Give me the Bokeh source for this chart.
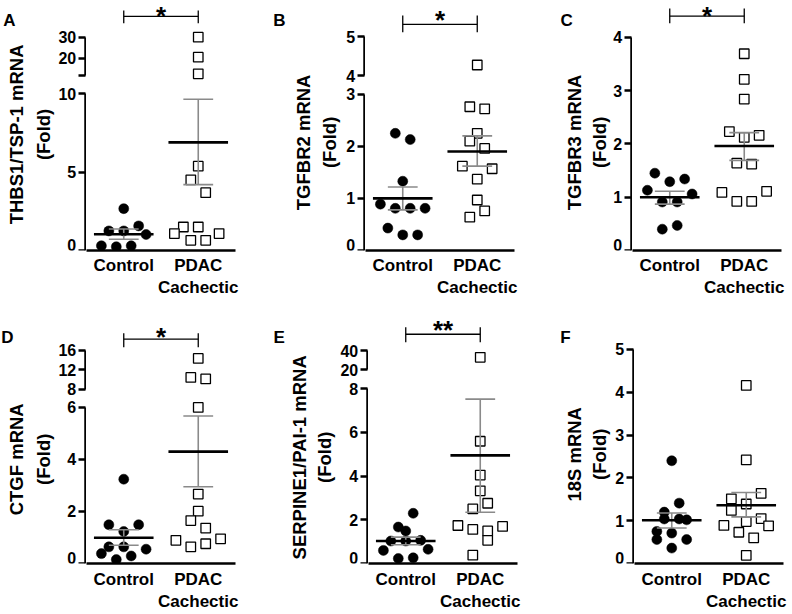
import math
from bokeh.plotting import figure
from bokeh.models import Range1d, LinearAxis, FixedTicker, Label, ColumnDataSource
from bokeh.layouts import row, column
from bokeh.embed import file_html
from bokeh.resources import INLINE

FONT = "Liberation Sans"

# ----------------------------- data -----------------------------
categories = ["Control", "PDAC\nCachectic"]

# A  THBS1/TSP-1
a_ctrl = [2.67, 1.25, 1.25, 1.57, 1.02, 0.30, 0.24, 0.30]
a_ctrl_dx = [0.0, -0.2, 0.0, 0.2, 0.3, -0.3, -0.1, 0.1]
a_pdac = [30.0, 20.4, 12.4, 5.38, 4.51, 3.69, 1.50, 1.50, 1.08, 0.65, 0.65, 1.08]
a_pdac_dx = [0.0, 0.0, 0.0, 0.0, -0.1, 0.1, -0.2, 0.0, -0.32, -0.1, 0.1, 0.28]
a_mean = [1.04, 6.90]
a_sem_lo = [0.72, 4.20]
a_sem_hi = [1.37, 9.65]
a_low_ticks = [0, 5, 10]
a_up_ticks = [20, 30]
a_up_start = 11.5

# B  TGFBR2
b_ctrl = [2.25, 2.13, 1.33, 0.89, 0.81, 0.81, 0.81, 0.43, 0.30, 0.30]
b_ctrl_dx = [-0.1, 0.1, 0.0, -0.3, -0.1, 0.1, 0.3, -0.2, 0.0, 0.2]
b_pdac = [4.28, 2.76, 2.72, 2.25, 2.10, 1.96, 1.62, 1.57, 1.37, 0.97, 0.76, 0.64]
b_pdac_dx = [0.0, -0.1, 0.1, 0.0, -0.1, 0.1, -0.2, 0.2, 0.0, 0.0, 0.1, -0.1]
b_mean = [1.00, 1.90]
b_sem_lo = [0.78, 1.62]
b_sem_hi = [1.22, 2.20]
b_low_ticks = [0, 1, 2, 3]
b_up_ticks = [4, 5]
b_up_start = 4

# C  TGFBR3
c_ctrl = [1.45, 1.29, 1.34, 1.13, 1.06, 0.91, 0.91, 0.40, 0.47]
c_ctrl_dx = [-0.2, 0.0, 0.2, -0.3, 0.3, -0.1, 0.1, -0.1, 0.1]
c_pdac = [3.69, 3.21, 2.84, 2.23, 2.12, 2.16, 1.64, 1.62, 1.09, 1.11, 0.92, 0.92]
c_pdac_dx = [0.0, 0.0, 0.0, -0.2, 0.0, 0.2, -0.1, 0.1, -0.3, 0.3, -0.1, 0.1]
c_mean = [1.00, 1.96]
c_sem_lo = [0.87, 1.69]
c_sem_hi = [1.11, 2.21]
c_low_ticks = [0, 1, 2, 3, 4]

# D  CTGF
d_ctrl = [3.24, 1.49, 1.49, 1.23, 0.64, 0.64, 0.38, 0.55, 0.29, 0.15]
d_ctrl_dx = [0.0, -0.2, 0.2, 0.0, -0.2, 0.0, -0.3, 0.3, 0.1, -0.1]
d_pdac = [14.3, 10.4, 10.1, 6.0, 2.67, 2.01, 1.65, 1.36, 0.89, 0.64, 0.76, 0.95]
d_pdac_dx = [0.0, -0.1, 0.1, 0.0, 0.0, 0.0, -0.1, 0.1, -0.3, -0.1, 0.1, 0.3]
d_mean = [0.99, 4.30]
d_sem_lo = [0.70, 2.95]
d_sem_hi = [1.30, 5.67]
d_low_ticks = [0, 2, 4, 6]
d_up_ticks = [8, 12, 16]
d_up_start = 8

# E  SERPINE1/PAI-1
e_ctrl = [2.30, 1.67, 1.49, 1.03, 1.03, 1.06, 0.60, 0.65, 0.23, 0.26]
e_ctrl_dx = [0.1, -0.1, 0.0, -0.2, 0.0, 0.2, -0.3, 0.3, -0.1, 0.1]
e_pdac = [33.2, 5.60, 4.05, 3.33, 2.76, 2.50, 1.74, 1.56, 1.49, 1.70, 1.06, 0.38]
e_pdac_dx = [0.0, 0.0, 0.0, 0.0, 0.1, -0.1, -0.3, -0.1, 0.1, 0.3, 0.1, -0.1]
e_mean = [1.03, 4.95]
e_sem_lo = [0.86, 2.35]
e_sem_hi = [1.21, 7.53]
e_low_ticks = [0, 2, 4, 6, 8]
e_up_ticks = [20, 40]
e_up_start = 20

# F  18S
f_ctrl = [2.40, 1.41, 1.20, 1.04, 1.04, 1.02, 0.75, 0.71, 0.56, 0.56, 0.36]
f_ctrl_dx = [0.0, 0.1, -0.1, -0.1, 0.1, 0.2, -0.2, 0.0, -0.2, 0.2, 0.0]
f_pdac = [4.16, 2.42, 1.64, 1.51, 1.39, 1.24, 1.05, 0.98, 0.89, 0.88, 0.73, 0.60, 0.19]
f_pdac_dx = [0.0, 0.0, 0.2, -0.2, 0.0, -0.2, 0.2, 0.0, -0.3, 0.3, -0.1, 0.1, 0.0]
f_mean = [1.01, 1.36]
f_sem_lo = [0.83, 1.09]
f_sem_hi = [1.18, 1.66]
f_low_ticks = [0, 1, 2, 3, 4, 5]

panels = [
    dict(letter="A", ylabel="THBS1/TSP-1 mRNA", sig="*", ctrl=a_ctrl, ctrl_dx=a_ctrl_dx, pdac=a_pdac,
         pdac_dx=a_pdac_dx, mean=a_mean, lo=a_sem_lo, hi=a_sem_hi, low_ticks=a_low_ticks,
         up_ticks=a_up_ticks, up_start=a_up_start),
    dict(letter="B", ylabel="TGFBR2 mRNA", sig="*", ctrl=b_ctrl, ctrl_dx=b_ctrl_dx, pdac=b_pdac,
         pdac_dx=b_pdac_dx, mean=b_mean, lo=b_sem_lo, hi=b_sem_hi, low_ticks=b_low_ticks,
         up_ticks=b_up_ticks, up_start=b_up_start),
    dict(letter="C", ylabel="TGFBR3 mRNA", sig="*", ctrl=c_ctrl, ctrl_dx=c_ctrl_dx, pdac=c_pdac,
         pdac_dx=c_pdac_dx, mean=c_mean, lo=c_sem_lo, hi=c_sem_hi, low_ticks=c_low_ticks,
         up_ticks=[], up_start=None),
    dict(letter="D", ylabel="CTGF mRNA", sig="*", ctrl=d_ctrl, ctrl_dx=d_ctrl_dx, pdac=d_pdac,
         pdac_dx=d_pdac_dx, mean=d_mean, lo=d_sem_lo, hi=d_sem_hi, low_ticks=d_low_ticks,
         up_ticks=d_up_ticks, up_start=d_up_start),
    dict(letter="E", ylabel="SERPINE1/PAI-1 mRNA", sig="**", ctrl=e_ctrl, ctrl_dx=e_ctrl_dx, pdac=e_pdac,
         pdac_dx=e_pdac_dx, mean=e_mean, lo=e_sem_lo, hi=e_sem_hi, low_ticks=e_low_ticks,
         up_ticks=e_up_ticks, up_start=e_up_start),
    dict(letter="F", ylabel="18S mRNA", sig="", ctrl=f_ctrl, ctrl_dx=f_ctrl_dx, pdac=f_pdac,
         pdac_dx=f_pdac_dx, mean=f_mean, lo=f_sem_lo, hi=f_sem_hi, low_ticks=f_low_ticks,
         up_ticks=[], up_start=None),
]

# ------------------------- layout geometry -------------------------
# pixel rows are page pixels; maps = (v0, y0, v1, y1) value->pixel row; y0 is the x-axis row
TOP_FRAME = (0, 300)
BOT_FRAME = (300, 614)
geom = [
    dict(w=270, gw=86, frame=TOP_FRAME, low_map=(0, 252, 10, 94), up_map=(20, 58, 30, 37),
         letter_dx=-82, letter_y=20, lab_dx=(-68.7, -42), lab_y=135, br=(16, 10, 23), star_top=1, stand=5),
    dict(w=265, gw=95, frame=TOP_FRAME, low_map=(0, 252, 3, 94.5), up_map=(4, 76, 5, 36.7),
         letter_dx=-91, letter_y=20, lab_dx=(-60.5, -35), lab_y=143, br=(24, 15, 32), star_top=5, stand=5),
    dict(w=257, gw=97, frame=TOP_FRAME, low_map=(0, 252, 4, 37), up_map=None,
         letter_dx=-70.7, letter_y=20, lab_dx=(-57, -32), lab_y=143, br=(15.7, 8, 23), star_top=1, stand=5),
    dict(w=270, gw=86, frame=BOT_FRAME, low_map=(0, 565, 6, 407.7), up_map=(8, 389.3, 16, 350),
         letter_dx=-84, letter_y=337, lab_dx=(-68.7, -42), lab_y=460, br=(339, 333, 347), star_top=322, stand=6),
    dict(w=265, gw=98, frame=BOT_FRAME, low_map=(0, 565, 8, 389), up_map=(20, 370, 40, 350.7),
         letter_dx=-93.7, letter_y=337, lab_dx=(-68, -43), lab_y=458, br=(334, 327, 342), star_top=315, stand=6),
    dict(w=257, gw=99, frame=BOT_FRAME, low_map=(0, 565, 5, 349.3), up_map=None,
         letter_dx=-73, letter_y=337, lab_dx=(-59, -34), lab_y=455, br=None, star_top=None, stand=6),
]

X0, X1 = 0.5, 2.5
PPU = 74.5          # horizontal pixels per category unit
FRAME_W = int(round((X1 - X0) * PPU))
MEAN_HW = 0.4
CAP_HW = 0.2
AXIS_W = 2.5
TICK_OUT = 7
Y_TICK_FS = "16px"


def mapper(m):
    v0, y0, v1, y1 = m
    ppu = (y0 - y1) / (v1 - v0)
    return lambda ry: v0 + (y0 - ry) / ppu


def style_axis(ax, fs=Y_TICK_FS):
    ax.axis_line_width = AXIS_W
    ax.axis_line_color = "black"
    ax.major_tick_line_width = AXIS_W
    ax.major_tick_line_color = "black"
    ax.minor_tick_line_width = AXIS_W
    ax.minor_tick_line_color = "black"
    ax.major_tick_out = TICK_OUT
    ax.major_tick_in = 0
    ax.minor_tick_out = TICK_OUT
    ax.minor_tick_in = 0
    ax.major_label_text_font = FONT
    ax.major_label_text_font_style = "bold"
    ax.major_label_text_font_size = fs
    ax.major_label_text_color = "black"
    ax.major_label_standoff = 2


def plain(p):
    p.outline_line_color = None
    p.grid.visible = False


def build_gutter(d, g):
    """Left strip: value axes (lower and broken upper segment), panel letter and axis title.
    Its plot frame has the same vertical extent as the data panel next to it."""
    top, bot = g["frame"]
    axis_row = g["low_map"][1]
    gw = g["gw"]
    val = mapper(g["low_map"])
    q = figure(width=gw, height=bot - top, x_range=Range1d(0, gw), y_range=Range1d(val(axis_row), val(top)),
               output_backend="svg", toolbar_location=None, x_axis_location=None, y_axis_location=None,
               min_border_left=0, min_border_right=0, min_border_top=0, min_border_bottom=bot - axis_row)
    plain(q)
    loc = gw - AXIS_W / 2
    low = d["low_ticks"]
    yax = LinearAxis(fixed_location=loc, bounds=(low[0], low[-1]), ticker=FixedTicker(ticks=low),
                     major_label_overrides={low[0]: ""})
    style_axis(yax)
    q.add_layout(yax, "left")
    # the label of the bottom tick sits at the frame's lower edge: draw it just above that edge
    q.add_layout(Label(x=loc - TICK_OUT - 2, y=val(axis_row - 6), text=str(low[0]), text_align="right",
                       text_baseline="middle", text_font=FONT, text_font_style="bold",
                       text_font_size=Y_TICK_FS, text_color="black"))
    if len(d["up_ticks"]) > 0:
        uval = mapper(g["up_map"])
        q.extra_y_ranges = {"up": Range1d(uval(axis_row), uval(top))}
        minor = [] if d["up_start"] in d["up_ticks"] else [d["up_start"]]
        uax = LinearAxis(y_range_name="up", fixed_location=loc, bounds=(d["up_start"], d["up_ticks"][-1]),
                         ticker=FixedTicker(ticks=d["up_ticks"], minor_ticks=minor))
        style_axis(uax)
        q.add_layout(uax, "left")
    q.add_layout(Label(x=max(loc + g["letter_dx"], 0), y=val(g["letter_y"]), text=d["letter"],
                       text_align="left", text_baseline="alphabetic", text_font=FONT,
                       text_font_style="bold", text_font_size="17px", text_color="black"))
    for txt, dx in ((d["ylabel"], g["lab_dx"][0]), ("(Fold)", g["lab_dx"][1])):
        q.add_layout(Label(x=loc + dx, y=val(g["lab_y"]), text=txt, angle=math.pi / 2,
                           text_align="center", text_baseline="middle", text_font=FONT,
                           text_font_style="bold", text_font_size="18.5px", text_color="black"))
    return q


def build_data(d, g):
    top, bot = g["frame"]
    axis_row = g["low_map"][1]
    val = mapper(g["low_map"])
    dw = g["w"] - g["gw"]
    p = figure(width=dw, height=bot - top, x_range=Range1d(X0, X1), y_range=Range1d(val(axis_row), val(top)),
               output_backend="svg", toolbar_location=None, y_axis_location=None,
               min_border_left=0, min_border_right=dw - FRAME_W, min_border_top=0,
               min_border_bottom=bot - axis_row)
    plain(p)

    xax = p.xaxis[0]
    xax.ticker = FixedTicker(ticks=[1, 2])
    xax.major_label_overrides = {1: categories[0], 2: categories[1]}
    style_axis(xax, "17px")
    xax.major_tick_out = 0
    xax.major_label_standoff = g["stand"]

    brk = d["low_ticks"][-1]
    if len(d["up_ticks"]) > 0:
        uval = mapper(g["up_map"])
        p.extra_y_ranges = {"up": Range1d(uval(axis_row), uval(top))}

    # points
    for vals, dxs, center, kind in ((d["ctrl"], d["ctrl_dx"], 1, "c"), (d["pdac"], d["pdac_dx"], 2, "s")):
        xs = [center + dx for dx in dxs]
        lo_src = ColumnDataSource(dict(x=[x for x, v in zip(xs, vals) if v <= brk],
                                       y=[v for v in vals if v <= brk]))
        up_src = ColumnDataSource(dict(x=[x for x, v in zip(xs, vals) if v > brk],
                                       y=[v for v in vals if v > brk]))
        for src, rn in ((lo_src, "default"), (up_src, "up")):
            if len(src.data["x"]) == 0:
                continue
            if kind == "c":
                p.scatter("x", "y", source=src, marker="circle", size=10, fill_color="black",
                          line_color="black", line_width=0.5, y_range_name=rn)
            else:
                p.scatter("x", "y", source=src, marker="square", size=9.5, fill_color="white",
                          line_color="black", line_width=1.3, y_range_name=rn)

    # SEM error bars
    cx = [1, 2]
    p.segment(x0=cx, y0=d["lo"], x1=cx, y1=d["hi"], line_color="#8a8a8a", line_width=1.6)
    p.segment(x0=[c - CAP_HW for c in cx] * 2, y0=d["lo"] + d["hi"], x1=[c + CAP_HW for c in cx] * 2,
              y1=d["lo"] + d["hi"], line_color="#8a8a8a", line_width=1.6)
    # means
    p.segment(x0=[c - MEAN_HW for c in cx], y0=d["mean"], x1=[c + MEAN_HW for c in cx], y1=d["mean"],
              line_color="black", line_width=2.6)

    # significance bracket
    if g["br"] is not None and d["sig"]:
        ly, t0, t1 = g["br"]
        p.segment(x0=[1, 1, 2], y0=[val(ly), val(t0), val(t0)], x1=[2, 1, 2], y1=[val(ly), val(t1), val(t1)],
                  line_color="black", line_width=1.3)
        p.add_layout(Label(x=1.5, y=val(g["star_top"]), text=d["sig"], text_align="center",
                           text_baseline="top", text_font=FONT, text_font_style="bold",
                           text_font_size="26px", text_color="black"))
    return p


top_row = []
bot_row = []
for i, (d, g) in enumerate(zip(panels, geom)):
    target = top_row if i < 3 else bot_row
    target.append(build_gutter(d, g))
    target.append(build_data(d, g))

layout = column(row(*top_row), row(*bot_row))

open("out.html", "w").write(file_html(layout, INLINE))
